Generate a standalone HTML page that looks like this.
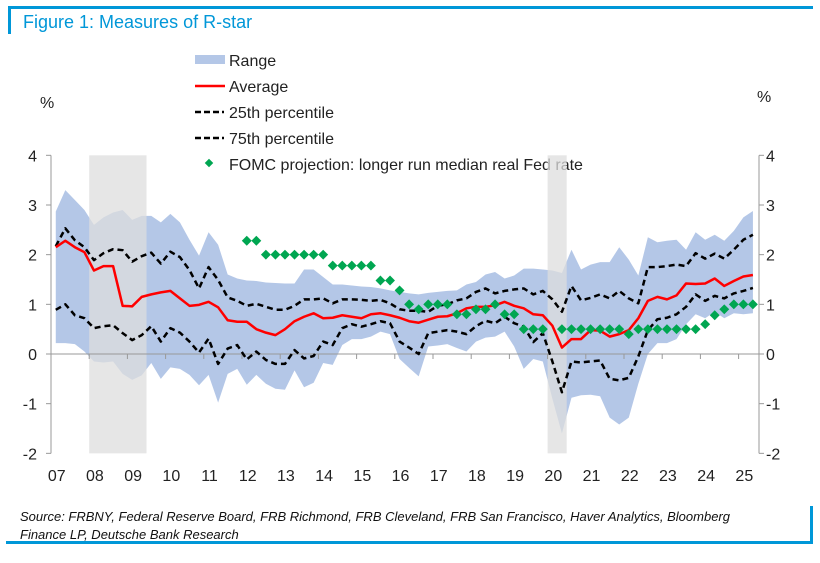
<!DOCTYPE html>
<html><head><meta charset="utf-8"><style>
body{margin:0;background:#fff;width:820px;height:558px;overflow:hidden;font-family:"Liberation Sans",sans-serif}
svg text{font-family:"Liberation Sans",sans-serif}
</style></head><body>
<svg id="c" width="820" height="558">
<rect x="8" y="6" width="805" height="3" fill="#0097d8"/>
<rect x="8" y="6" width="3" height="28" fill="#0097d8"/>
<text x="23" y="28" font-size="18" fill="#0097d8">Figure 1: Measures of R-star</text>
<rect x="6" y="541" width="807" height="3" fill="#0097d8"/>
<rect x="810" y="506" width="3" height="38" fill="#0097d8"/>
<text x="20" y="521" font-size="13" font-style="italic" fill="#111">Source: FRBNY, Federal Reserve Board, FRB Richmond, FRB Cleveland, FRB San Francisco, Haver Analytics, Bloomberg</text>
<text x="20" y="539" font-size="13" font-style="italic" fill="#111">Finance LP, Deutsche Bank Research</text>
<text x="40" y="108" font-size="16" fill="#222">%</text>
<text x="757" y="102" font-size="16" fill="#222">%</text>
<g>
<rect x="195" y="55" width="30" height="9" fill="#b4c7e7"/>
<text x="229" y="66" font-size="16" fill="#222">Range</text>
<line x1="195" y1="86" x2="225" y2="86" stroke="#f00" stroke-width="2.5"/>
<text x="229" y="92" font-size="16" fill="#222">Average</text>
<line x1="195" y1="112" x2="224" y2="112" stroke="#000" stroke-width="2.5" stroke-dasharray="6,3"/>
<text x="229" y="118" font-size="16" fill="#222">25th percentile</text>
<line x1="195" y1="138" x2="224" y2="138" stroke="#000" stroke-width="2.5" stroke-dasharray="6,3"/>
<text x="229" y="144" font-size="16" fill="#222">75th percentile</text>
<rect x="206" y="160" width="6" height="6" fill="#00a651" transform="rotate(45 209 163)"/>
<text x="229" y="170" font-size="16" fill="#222">FOMC projection: longer run median real Fed rate</text>
</g>
<g id="plot"></g>
</svg>
<script>
const startYear = 2007;
const avg = [2.15,2.28,2.15,2.05,1.68,1.77,1.77,0.97,0.96,1.15,1.2,1.24,1.27,1.12,0.97,0.99,1.05,0.94,0.68,0.65,0.65,0.5,0.43,0.38,0.5,0.66,0.75,0.82,0.72,0.73,0.78,0.75,0.72,0.8,0.82,0.78,0.73,0.66,0.63,0.69,0.75,0.76,0.82,0.92,0.95,0.95,0.98,1.05,0.97,0.92,0.8,0.78,0.57,0.13,0.3,0.3,0.48,0.47,0.35,0.4,0.48,0.72,1.07,1.15,1.1,1.18,1.42,1.41,1.42,1.52,1.37,1.47,1.56,1.59];
const p75 = [2.17,2.53,2.29,2.15,1.89,2.03,2.11,2.09,1.86,1.97,2.04,1.82,2.06,1.95,1.69,1.32,1.75,1.49,1.14,1.07,0.97,1.01,0.95,0.89,0.89,0.97,1.1,1.1,1.12,1.02,1.1,1.1,1.09,1.07,1.09,1.02,0.9,0.87,0.87,0.85,0.97,1.0,1.08,1.12,1.25,1.32,1.22,1.27,1.3,1.32,1.2,1.27,1.1,0.85,1.37,1.08,1.13,1.2,1.12,1.27,1.12,1.02,1.75,1.75,1.77,1.8,1.77,2.03,1.92,2.02,1.92,2.1,2.3,2.4];
const p25 = [0.89,1.0,0.78,0.72,0.52,0.56,0.58,0.42,0.28,0.38,0.56,0.25,0.52,0.43,0.25,0.03,0.31,-0.2,0.11,0.18,-0.11,0.05,-0.12,-0.2,-0.2,0.08,-0.09,-0.04,0.25,0.18,0.52,0.6,0.55,0.6,0.66,0.62,0.25,0.13,0.0,0.42,0.45,0.48,0.45,0.4,0.56,0.67,0.62,0.75,0.62,0.55,0.24,0.42,-0.15,-0.77,-0.15,-0.17,-0.15,-0.13,-0.5,-0.53,-0.48,-0.05,0.48,0.7,0.73,0.8,0.95,1.2,1.07,1.17,1.12,1.22,1.27,1.33];
const rangeHi = [2.87,3.3,3.1,2.9,2.6,2.75,2.85,2.9,2.7,2.78,2.78,2.65,2.82,2.65,2.3,1.98,2.45,2.2,1.6,1.52,1.48,1.47,1.44,1.43,1.42,1.42,1.7,1.7,1.55,1.4,1.4,1.38,1.36,1.35,1.32,1.28,1.25,1.22,1.2,1.23,1.25,1.27,1.28,1.4,1.45,1.6,1.65,1.52,1.58,1.72,1.72,1.7,1.68,1.63,2.1,1.7,1.8,1.85,1.85,2.15,1.9,1.58,2.35,2.25,2.28,2.3,2.1,2.45,2.3,2.4,2.28,2.48,2.75,2.88];
const rangeLo = [0.22,0.22,0.2,0.05,-0.15,-0.17,-0.15,-0.4,-0.52,-0.43,-0.18,-0.5,-0.27,-0.3,-0.42,-0.63,-0.42,-0.98,-0.4,-0.3,-0.62,-0.42,-0.6,-0.7,-0.72,-0.33,-0.67,-0.58,-0.18,-0.22,0.18,0.3,0.3,0.35,0.45,0.4,-0.1,-0.28,-0.45,0.15,0.17,0.2,0.12,0.05,0.25,0.33,0.35,0.45,0.15,-0.3,-0.1,-0.15,-0.9,-1.6,-0.88,-0.83,-0.82,-0.85,-1.28,-1.42,-1.28,-0.6,0.0,0.22,0.22,0.3,0.6,0.8,0.72,0.85,0.72,0.82,0.8,0.82];
const fomc = [null,null,null,null,null,null,null,null,null,null,null,null,null,null,null,null,null,null,null,null,2.28,2.28,2.0,2.0,2.0,2.0,2.0,2.0,2.0,1.78,1.78,1.78,1.78,1.78,1.48,1.48,1.28,1.0,0.9,1.0,1.0,1.0,0.8,0.8,0.9,0.9,1.0,0.8,0.8,0.5,0.5,0.5,null,0.5,0.5,0.5,0.5,0.5,0.5,0.5,0.4,0.5,0.5,0.5,0.5,0.5,0.5,0.5,0.6,0.78,0.9,1.0,1.0,1.0];
const recessions = [[2008.0,2009.5],[2020.0,2020.5]];
const yTicks = [-2,-1,0,1,2,3,4];
const xLabels = ["07","08","09","10","11","12","13","14","15","16","17","18","19","20","21","22","23","24","25"];

const X0=51, X1=759, YW=38.2;
const xs = yr => X0 + (yr-startYear)*YW;
const ys = v => 354 - v*49.67;
const qYear = i => startYear + 0.125 + i*0.25;
const NS="http://www.w3.org/2000/svg";
const plot=document.getElementById('plot');
function mk(t,a){const e=document.createElementNS(NS,t);for(const k in a)e.setAttribute(k,a[k]);plot.appendChild(e);return e;}

// band
let pts=rangeHi.map((v,i)=>xs(qYear(i))+','+ys(v));
for(let i=rangeLo.length-1;i>=0;i--)pts.push(xs(qYear(i))+','+ys(rangeLo[i]));
const band=mk('polygon',{points:pts.join(' '),fill:'#b4c7e7'});


// recessions
recessions.forEach(r=>{
 const e=mk('rect',{x:xs(r[0]),y:ys(4),width:xs(r[1])-xs(r[0]),height:ys(-2)-ys(4),fill:'rgba(222,222,222,0.75)'});
 
 
});
// axes
const ax=mk('line',{x1:X0,y1:ys(4),x2:X0,y2:ys(-2),stroke:'#999','stroke-width':1});


const ax2=mk('line',{x1:X1,y1:ys(4),x2:X1,y2:ys(-2),stroke:'#999','stroke-width':1});


const zl=mk('line',{x1:X0,y1:ys(0),x2:X1,y2:ys(0),stroke:'#999','stroke-width':1});


yTicks.forEach(v=>{
 mk('line',{x1:X0-5,y1:ys(v),x2:X0,y2:ys(v),stroke:'#999'});
 mk('line',{x1:X1,y1:ys(v),x2:X1+5,y2:ys(v),stroke:'#999'});
 const l=mk('text',{x:37,y:ys(v)+6,'font-size':16,'text-anchor':'end',fill:'#222'});l.textContent=v;
 
 
 const r=mk('text',{x:766,y:ys(v)+6,'font-size':16,fill:'#222'});r.textContent=v;
 
 
});
xLabels.forEach((s,i)=>{
 if(i>0)mk('line',{x1:xs(startYear+i),y1:ys(0),x2:xs(startYear+i),y2:ys(0)+5,stroke:'#999'});
 const t=mk('text',{x:xs(startYear+i+0.15),y:481,'font-size':16,'text-anchor':'middle',fill:'#222'});t.textContent=s;
 
 
});
function line(arr,color,dash,name){
 const e=mk('polyline',{points:arr.map((v,i)=>xs(qYear(i))+','+ys(v)).join(' '),fill:'none',stroke:color,'stroke-width':2.5,'stroke-dasharray':dash,'stroke-linejoin':'round'});
 
 
}
line(p75,'#000','6,4','p75-line');
line(p25,'#000','6,4','p25-line');
line(avg,'#f00','none','average-line');
fomc.forEach((v,i)=>{
 if(v===null)return;
 const cx=xs(qYear(i)),cy=ys(v);
 const d=mk('rect',{x:cx-3.5,y:cy-3.5,width:7,height:7,fill:'#00a651',transform:`rotate(45 ${cx} ${cy})`});
 
 
});
</script>
</body></html>
